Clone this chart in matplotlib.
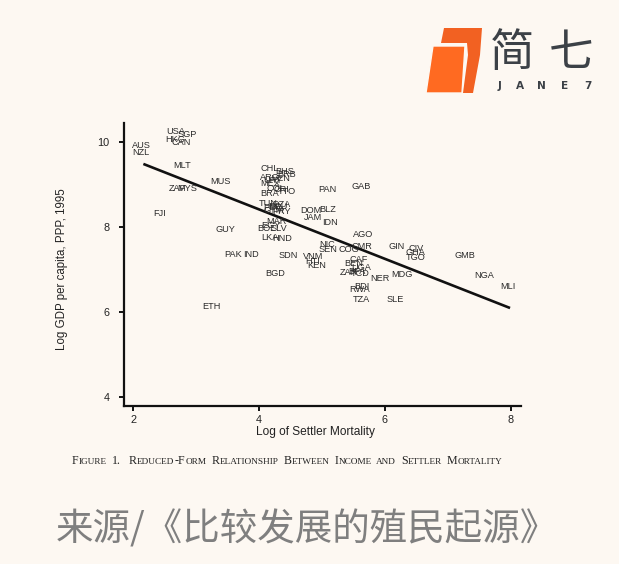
import matplotlib
matplotlib.use("Agg")
import matplotlib.pyplot as plt
from matplotlib.patches import Polygon

# ---------------- data ----------------
codes = ["AUS", "NZL", "USA", "SGP", "HKG", "CAN", "MLT", "ZAF", "MYS", "MUS",
         "FJI", "GUY", "PAK", "IND", "SDN", "BGD", "ETH", "PAN", "GAB", "DOM",
         "BLZ", "JAM", "IDN", "NIC", "SEN", "VNM", "HTI", "KEN", "COG", "CMR",
         "AGO", "GIN", "CAF", "BEN", "UGA", "ZAR", "TCD", "BFA", "NER", "MDG",
         "BDI", "RWA", "TZA", "SLE", "CIV", "GHA", "TGO", "GMB", "NGA", "MLI",
         "CHL", "BHS", "BRB", "ARG", "VEN", "URY", "MEX", "COL", "CRI", "TTO",
         "BRA", "TUN", "DZA", "ECU", "PER", "GTM", "PRY", "MAR", "EGY", "BOL",
         "SLV", "LKA", "HND"]
log_mortality = [2.13, 2.12, 2.68, 2.86, 2.66, 2.76, 2.77, 2.70, 2.86, 3.39,
                 2.41, 3.46, 3.59, 3.87, 4.46, 4.25, 3.24, 5.08, 5.62, 4.82,
                 5.09, 4.86, 5.13, 5.08, 5.10, 4.86, 4.85, 4.92, 5.42, 5.63,
                 5.66, 6.19, 5.58, 5.50, 5.63, 5.42, 5.60, 5.56, 5.92, 6.27,
                 5.63, 5.60, 5.63, 6.16, 6.49, 6.48, 6.49, 7.27, 7.58, 7.96,
                 4.17, 4.41, 4.43, 4.17, 4.36, 4.22, 4.17, 4.27, 4.36, 4.44,
                 4.17, 4.15, 4.36, 4.30, 4.22, 4.24, 4.36, 4.28, 4.19, 4.12,
                 4.31, 4.17, 4.36]
log_gdp = [9.92, 9.75, 10.23, 10.16, 10.06, 9.98, 9.44, 8.89, 8.89, 9.06,
           8.31, 7.93, 7.36, 7.36, 7.33, 6.91, 6.14, 8.87, 8.95, 8.39,
           8.41, 8.22, 8.11, 7.58, 7.46, 7.31, 7.19, 7.10, 7.46, 7.54,
           7.82, 7.54, 7.23, 7.15, 7.04, 6.92, 6.90, 6.95, 6.79, 6.88,
           6.60, 6.53, 6.29, 6.29, 7.49, 7.41, 7.27, 7.32, 6.86, 6.60,
           9.36, 9.31, 9.24, 9.17, 9.13, 9.08, 9.01, 8.89, 8.87, 8.82,
           8.79, 8.56, 8.52, 8.47, 8.45, 8.39, 8.35, 8.13, 8.03, 7.97,
           7.97, 7.74, 7.72]

fit_intercept = 10.73
fit_slope = -0.58
fit_range = [2.16, 7.99]

x_ticks = [2, 4, 6, 8]
y_ticks = [4, 6, 8, 10]

x_label = "Log of Settler Mortality"
y_label = "Log GDP per capita, PPP, 1995"
source_text = "来源/《比较发展的殖民起源》"

# ---------------- figure ----------------
W, H = 619, 564
BG = "#fdf8f2"
fig = plt.figure(figsize=(W / 100, H / 100), dpi=100, facecolor=BG)

def fx(px):
    return px / W

def fy(py):
    return 1 - py / H

ax = fig.add_axes([fx(124.3), fy(406), fx(521) - fx(124.3), fy(123) - fy(406)])
ax.set_facecolor(BG)
ax.set_xlim(1.857, 8.164)
ax.set_ylim(3.796, 10.438)

for s in ["top", "right"]:
    ax.spines[s].set_visible(False)
for s in ["left", "bottom"]:
    ax.spines[s].set_linewidth(1.6)
    ax.spines[s].set_color("#111111")

ax.set_xticks(x_ticks)
ax.set_yticks(y_ticks)
ax.tick_params(axis="both", direction="out", length=3.8, width=1.4, colors="#111111",
               labelsize=7.8)
ax.tick_params(axis="y", pad=7)
ax.tick_params(axis="x", pad=2.5)
for lab in ax.get_xticklabels() + ax.get_yticklabels():
    lab.set_fontfamily("Liberation Sans")
    lab.set_color("#222222")

# labels for countries
for c, xv, yv in zip(codes, log_mortality, log_gdp):
    ax.text(xv, yv, c, ha="center", va="center", fontsize=6.6,
            family="Liberation Sans", color="#2a2a2a")

# regression line
ax.plot(fit_range, [fit_intercept + fit_slope * v for v in fit_range],
        color="#111111", lw=1.9, solid_capstyle="butt")

# axis labels
fig.text(fx(316), fy(432), x_label, ha="center", va="center", fontsize=8.6,
         family="Liberation Sans", color="#222222")
fig.text(fx(62), fy(269), y_label, ha="center", va="center", rotation=90,
         fontsize=8.3, family="Liberation Sans", color="#222222")

# caption in small caps
B, S = 8.6, 6.7
cap_words = [[("F", B), ("IGURE", S)], [("1.", B)],
             [("R", B), ("EDUCED", S), ("-F", B), ("ORM", S)],
             [("R", B), ("ELATIONSHIP", S)], [("B", B), ("ETWEEN", S)],
             [("I", B), ("NCOME", S)], [("AND", S)],
             [("S", B), ("ETTLER", S)], [("M", B), ("ORTALITY", S)]]
renderer = fig.canvas.get_renderer()
xpos = 71.7
base = 463.5
for wi, word in enumerate(cap_words):
    for txt, size in word:
        t = fig.text(fx(xpos), fy(base), txt, ha="left", va="baseline",
                     fontsize=size, family="Liberation Serif", color="#222222")
        bb = t.get_window_extent(renderer=renderer)
        xpos += bb.width + 0.4
    xpos += 7.5 if wi == 1 else 4.3

# source text
fig.text(fx(56), fy(530), source_text, ha="left", va="center", fontsize=27,
         family=["Noto Sans CJK SC", "DejaVu Sans"], color="#7f7f7f")

# logo
back = Polygon([(fx(444), fy(28)), (fx(482), fy(28)), (fx(480), fy(55)),
                (fx(473), fy(93)), (fx(463), fy(93)), (fx(468), fy(55)),
                (fx(467), fy(43)), (fx(441), fy(43))],
               closed=True, transform=fig.transFigure, facecolor="#f26122",
               edgecolor="none")
front = Polygon([(fx(433), fy(46)), (fx(465), fy(46)), (fx(462), fy(93)),
                 (fx(426), fy(93))],
                closed=True, transform=fig.transFigure, facecolor="#ff6a21",
                edgecolor=BG, linewidth=1.0)
fig.patches.extend([back, front])

fig.text(fx(512), fy(53), "简", ha="center", va="center", fontsize=32,
         family=["Noto Sans CJK SC", "DejaVu Sans"], color="#3c4147")
fig.text(fx(571), fy(53), "七", ha="center", va="center", fontsize=32,
         family=["Noto Sans CJK SC", "DejaVu Sans"], color="#3c4147")
for ch, px in zip("JANE7", [499.3, 520, 541.7, 565, 588.3]):
    fig.text(fx(px), fy(86), ch, ha="center", va="center", fontsize=7.6,
             family="DejaVu Sans", weight="bold", color="#3c4147")

fig.savefig("out.png", dpi=100, facecolor=BG)
